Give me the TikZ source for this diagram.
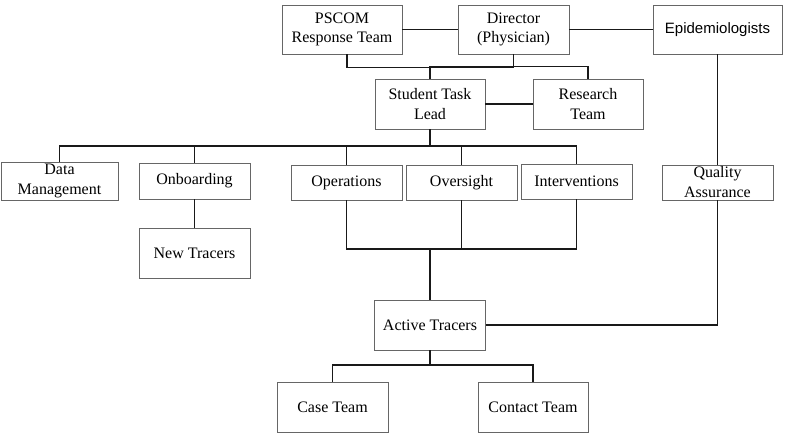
\documentclass[tikz,border=0pt]{standalone}
\usepackage{fontspec}
\setmainfont{Liberation Serif}
\newfontfamily\episans{Liberation Sans}
\begin{document}
\begin{tikzpicture}[x=1pt,y=-1pt,
  box/.style={draw=black!60, line width=0.9pt, inner sep=0pt, align=center,
    font=\fontsize{16}{19.5}\selectfont},
  conn/.style={draw=black!90, line width=1.3pt}]
\useasboundingbox (0,0) rectangle (785,435);
% boxes
\node[box, minimum width=120, minimum height=49] (pscom) at (342,29.5) {PSCOM\\Response Team};
\node[box, minimum width=111, minimum height=49] (dir) at (513.5,29.5) {Director\\(Physician)};
\node[box, minimum width=129, minimum height=49, font=\episans\fontsize{15}{18}\selectfont] (epi) at (717.5,29.5) {Epidemiologists};
\node[box, minimum width=110, minimum height=50] (stl) at (430,104) {Student Task\\Lead};
\node[box, minimum width=110, minimum height=50] (res) at (588,104) {Research\\Team};
\node[box, minimum width=117, minimum height=38, font=\fontsize{16}{20}\selectfont] (dm) at (59.5,181) {Data\\Management};
\node[box, minimum width=111, minimum height=36] (onb) at (194.5,181) {Onboarding};
\node[box, minimum width=111, minimum height=35] (ops) at (346.5,182.5) {Operations};
\node[box, minimum width=111, minimum height=35] (ovs) at (461.5,182.5) {Oversight};
\node[box, minimum width=111, minimum height=35] (int) at (576.5,181.5) {Interventions};
\node[box, minimum width=111, minimum height=35, font=\fontsize{16}{20}\selectfont] (qa) at (717.5,182.5) {Quality\\Assurance};
\node[box, minimum width=111, minimum height=50] (nt) at (194.5,253) {New Tracers};
\node[box, minimum width=111, minimum height=50] (at) at (430,325) {Active Tracers};
\node[box, minimum width=111, minimum height=50] (case) at (332.5,407) {Case Team};
\node[box, minimum width=110, minimum height=50] (contact) at (533,407) {Contact Team};
% junctions
\coordinate (bus1) at (430,146);
\coordinate (bus2) at (430,249);
\coordinate (bus3) at (430,365);
% connectors
\draw[conn] (pscom.east) -- (dir.west);
\draw[conn] (dir.east) -- (epi.west);
\draw[conn] ([xshift=5pt]pscom.south) -- ++(0,13) -| (dir.south);
\draw[conn] (stl.north) -- ++(0,-12) -| (res.north);
\draw[conn] (stl.east) -- (res.west);
\draw[conn] (epi.south) -- (qa.north);
\draw[conn] (stl.south) -- (bus1);
\draw[conn] (dm.north) -- (dm.north |- bus1) -- (int.north |- bus1) -- (int.north);
\draw[conn] (onb.north) -- (onb.north |- bus1);
\draw[conn] (ops.north) -- (ops.north |- bus1);
\draw[conn] (ovs.north) -- (ovs.north |- bus1);
\draw[conn] (onb.south) -- (nt.north);
\draw[conn] (ops.south) -- (ops.south |- bus2) -- (int.south |- bus2) -- (int.south);
\draw[conn] (ovs.south) -- (ovs.south |- bus2);
\draw[conn] (bus2) -- (at.north);
\draw[conn] (at.east) -- (qa.south |- at.east) -- (qa.south);
\draw[conn] (at.south) -- (bus3);
\draw[conn] (case.north) -- (case.north |- bus3) -- (contact.north |- bus3) -- (contact.north);
\end{tikzpicture}
\end{document}
